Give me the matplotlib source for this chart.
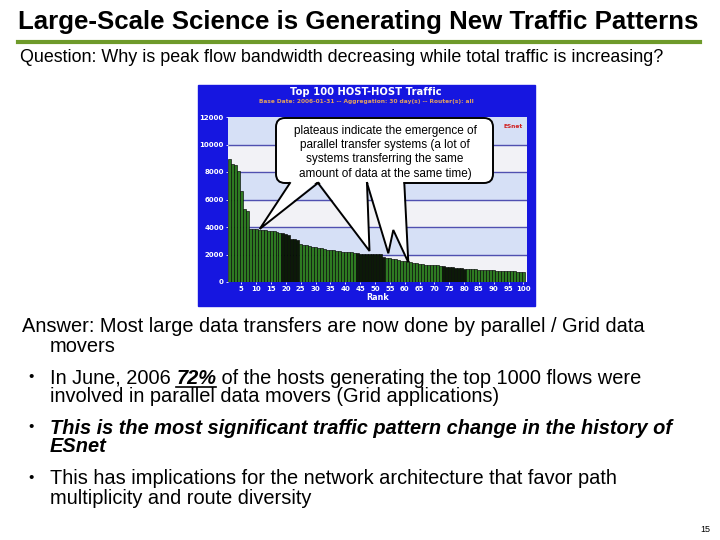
import matplotlib
matplotlib.use('Agg')
import matplotlib.pyplot as plt
from matplotlib.patches import FancyBboxPatch, Polygon, Rectangle

# top 100 host-host flows, bytes scale of the ESnet chart
ranks = list(range(1, 101))
traffic = [8950, 8600, 8500, 8100, 6600, 5300, 5200, 3850, 3850, 3830,
           3800, 3780, 3750, 3720, 3700, 3680, 3620, 3560, 3550, 3500,
           3420, 3150, 3100, 3080, 2780, 2700, 2680, 2650, 2580, 2520,
           2480, 2450, 2400, 2300, 2300, 2300, 2280, 2250, 2200, 2200,
           2180, 2150, 2130, 2080, 2050, 2050, 2050, 2050, 2050, 2050,
           2050, 2050, 1800, 1780, 1750, 1700, 1650, 1600, 1550, 1520,
           1500, 1480, 1400, 1380, 1300, 1280, 1270, 1250, 1240, 1230,
           1220, 1200, 1150, 1120, 1100, 1080, 1050, 1020, 1000, 980,
           960, 950, 940, 920, 900, 880, 870, 860, 850, 840,
           830, 820, 810, 800, 790, 780, 770, 760, 750, 740]
dark_ranks = list(range(19, 25)) + list(range(44, 54)) + list(range(73, 81))
y_ticks = [0, 2000, 4000, 6000, 8000, 10000, 12000]
x_ticks = [5, 10, 15, 20, 25, 30, 35, 40, 45, 50, 55, 60, 65, 70, 75, 80, 85, 90, 95, 100]

W, H = 720, 540
fig = plt.figure(figsize=(7.2, 5.4), dpi=100)
fig.patch.set_facecolor('white')

def fx(px):
    return px / W

def fy(py):
    return 1 - py / H

# blue frame of the embedded chart image
fig.patches.append(Rectangle((fx(198), fy(306)), (535 - 198) / W, (306 - 85) / H,
                             transform=fig.transFigure, color='#1616e0', zorder=0))

ax = fig.add_axes([fx(228), fy(282), (527 - 228) / W, (282 - 117) / H], zorder=1)
ax.set_facecolor('#f2f2f6')
for lo in range(0, 12000, 2000):
    col = '#d6e0f6' if (lo // 2000) % 2 == 1 else '#f2f2f6'
    ax.axhspan(lo, lo + 2000, color=col, zorder=0)
for t in y_ticks[1:-1]:
    ax.axhline(t, color='#5050b0', lw=1.0, zorder=1)

colors = ['#0c1a08' if r in dark_ranks else '#2e7a22' for r in ranks]
ax.bar(ranks, traffic, width=1.0, color=colors, edgecolor='#050805', linewidth=0.45, zorder=2)
ax.set_xlim(0.5, 101.2)
ax.set_ylim(0, 12000)
ax.set_yticks(y_ticks)
ax.set_xticks(x_ticks)
ax.tick_params(colors='white', labelsize=5.0, length=1.5, width=0.6, pad=1.5)
for lab in ax.get_xticklabels() + ax.get_yticklabels():
    lab.set_fontweight('bold')
for s in ax.spines.values():
    s.set_visible(False)
ax.text(0.985, 0.955, 'ESnet', transform=ax.transAxes, color='#d02020', fontsize=4.2,
        fontweight='bold', ha='right', va='top')

# overlay in slide pixel coordinates
ov = fig.add_axes([0, 0, 1, 1], zorder=5)
ov.set_xlim(0, W)
ov.set_ylim(H, 0)
ov.axis('off')

ov.text(366, 92, 'Top 100 HOST-HOST Traffic', color='white', fontsize=7.2,
        fontweight='bold', ha='center', va='center')
ov.text(366, 102, 'Base Date: 2006-01-31 -- Aggregation: 30 day(s) -- Router(s): all',
        color='#e0a060', fontsize=4.2, fontweight='bold', ha='center', va='center')
ov.text(378, 298, 'Rank', color='white', fontsize=5.8, fontweight='bold', ha='center', va='center')

# callout
box = FancyBboxPatch((276, 118), 217, 65, boxstyle='round,pad=0,rounding_size=9',
                     facecolor='white', edgecolor='black', lw=1.4, zorder=3)
ov.add_patch(box)
tails = [
    [(290, 183), (259.7, 229), (318, 183)],
    [(318, 183), (369.5, 251), (367, 183)],
    [(367, 183), (388.3, 253.3), (393.3, 230), (408.3, 262.3), (404.3, 183)],
]
for pts in tails:
    fill = [(pts[0][0] + 0.8, 181.5)] + pts[1:-1] + [(pts[-1][0] - 0.8, 181.5)]
    ov.add_patch(Polygon(fill, closed=True, facecolor='white', edgecolor='none', zorder=4))
    xs = [p[0] for p in pts]
    ys = [p[1] for p in pts]
    ov.plot(xs, ys, color='black', lw=1.4, zorder=5, solid_joinstyle='miter')
callout = ['plateaus indicate the emergence of', 'parallel transfer systems (a lot of',
           'systems transferring the same', 'amount of data at the same time)']
for i, line in enumerate(callout):
    ov.text(385, 131 + i * 14.2, line, fontsize=8.5, family='Liberation Sans',
            ha='center', va='center', zorder=6)

sans = ['Liberation Sans', 'DejaVu Sans']

ov.text(18, 22, 'Large-Scale Science is Generating New Traffic Patterns', fontsize=18.6,
        family=sans, fontweight='bold', ha='left', va='center')
ov.plot([18, 700], [42, 42], color='#6e9a2a', lw=3)
ov.text(20, 58, 'Question: Why is peak flow bandwidth decreasing while total traffic is increasing?',
        fontsize=12.9, family=sans, ha='left', va='center')

body = 14.4
ov.text(22, 327, 'Answer: Most large data transfers are now done by parallel / Grid data',
        fontsize=body, family=sans, ha='left', va='center')
ov.text(50, 347, 'movers', fontsize=body, family=sans, ha='left', va='center')

for yb in [378, 428, 479]:
    ov.text(31, yb - 1, '\u2022', fontsize=11, family=sans, ha='center', va='center')

fig.canvas.draw()
rend = fig.canvas.get_renderer()
inv = ov.transData.inverted()

x0 = 50
t1 = ov.text(x0, 378, 'In June, 2006 ', fontsize=body, family=sans, ha='left', va='center')
bb = t1.get_window_extent(rend)
xa = inv.transform((bb.x1, 0))[0]
t2 = ov.text(xa, 378, '72%', fontsize=body, family=sans, fontweight='bold', style='italic',
             ha='left', va='center')
bb2 = t2.get_window_extent(rend)
xb = inv.transform((bb2.x1, 0))[0]
ov.plot([xa, xb], [387, 387], color='black', lw=1.2)
ov.text(xb, 378, ' of the hosts generating the top 1000 flows were', fontsize=body,
        family=sans, ha='left', va='center')
ov.text(x0, 397, 'involved in parallel data movers (Grid applications)', fontsize=body,
        family=sans, ha='left', va='center')

ov.text(x0, 428, 'This is the most significant traffic pattern change in the history of',
        fontsize=body, family=sans, fontweight='bold', style='italic', ha='left', va='center')
ov.text(x0, 447, 'ESnet', fontsize=body, family=sans, fontweight='bold', style='italic',
        ha='left', va='center')

ov.text(x0, 479, 'This has implications for the network architecture that favor path',
        fontsize=body, family=sans, ha='left', va='center')
ov.text(x0, 498, 'multiplicity and route diversity', fontsize=body, family=sans,
        ha='left', va='center')

ov.text(710, 530, '15', fontsize=6.5, family=sans, ha='right', va='center')

fig.savefig('out.png', dpi=100)
